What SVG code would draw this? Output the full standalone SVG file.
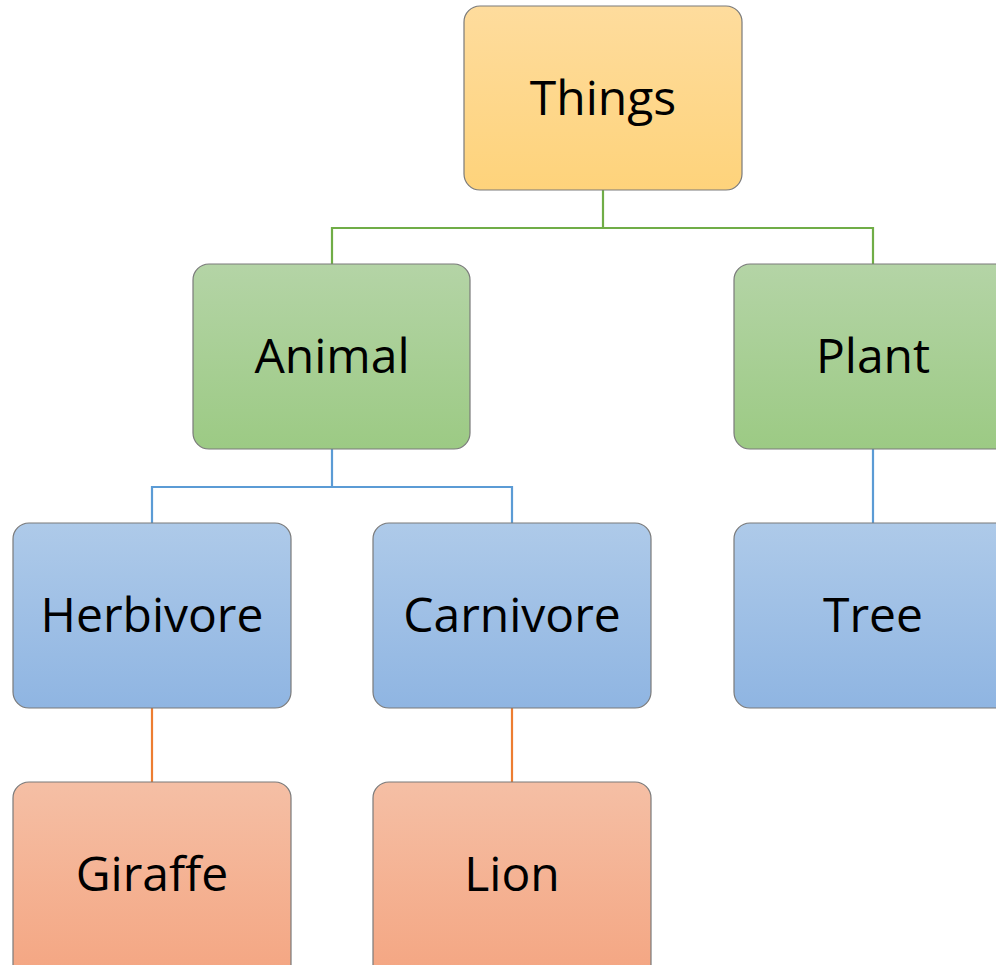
<svg xmlns="http://www.w3.org/2000/svg" width="996" height="965" viewBox="0 0 996 965">
<defs>
<linearGradient id="gY" x1="0" y1="0" x2="0" y2="1"><stop offset="0" stop-color="#FEDC9D"/><stop offset="1" stop-color="#FED37B"/></linearGradient>
<linearGradient id="gG" x1="0" y1="0" x2="0" y2="1"><stop offset="0" stop-color="#B4D4A6"/><stop offset="1" stop-color="#9CCA84"/></linearGradient>
<linearGradient id="gB" x1="0" y1="0" x2="0" y2="1"><stop offset="0" stop-color="#AECAE9"/><stop offset="1" stop-color="#8FB5E2"/></linearGradient>
<linearGradient id="gO" x1="0" y1="0" x2="0" y2="1"><stop offset="0" stop-color="#F5BFA5"/><stop offset="1" stop-color="#F4A581"/></linearGradient>
</defs>
<style>
.box{stroke:#7a7a7a;stroke-width:1.2}
.t{font-family:"Open Sans","Liberation Sans",sans-serif;font-size:48px;fill:#000;text-anchor:middle}
.c{fill:none;stroke-width:2.2}
</style>
<rect width="996" height="965" fill="#fff"/>
<g id="connectors">
<path class="c" stroke="#70AD47" d="M603 190V228M332 228H873M332 227V264M873 227V264"/>
<path class="c" stroke="#5B9BD5" d="M332 449V487M152 487H512M152 486V523M512 486V523M873 449V523"/>
<path class="c" stroke="#ED7D31" d="M152 708V782M512 708V782"/>
</g>
<g id="things"><rect class="box" x="464" y="6" width="278" height="184" rx="16" fill="url(#gY)"/><text class="t" x="603" y="115">Things</text></g>
<g id="animal"><rect class="box" x="193" y="264" width="277" height="185" rx="16" fill="url(#gG)"/><text class="t" x="332" y="373">Animal</text></g>
<g id="plant"><rect class="box" x="734" y="264" width="278" height="185" rx="16" fill="url(#gG)"/><text class="t" x="873" y="373">Plant</text></g>
<g id="herbivore"><rect class="box" x="13" y="523" width="278" height="185" rx="16" fill="url(#gB)"/><text class="t" x="152" y="632">Herbivore</text></g>
<g id="carnivore"><rect class="box" x="373" y="523" width="278" height="185" rx="16" fill="url(#gB)"/><text class="t" x="512" y="632">Carnivore</text></g>
<g id="tree"><rect class="box" x="734" y="523" width="278" height="185" rx="16" fill="url(#gB)"/><text class="t" x="873" y="632">Tree</text></g>
<g id="giraffe"><rect class="box" x="13" y="782" width="278" height="200" rx="16" fill="url(#gO)"/><text class="t" x="152" y="891">Giraffe</text></g>
<g id="lion"><rect class="box" x="373" y="782" width="278" height="200" rx="16" fill="url(#gO)"/><text class="t" x="512" y="891">Lion</text></g>
</svg>
